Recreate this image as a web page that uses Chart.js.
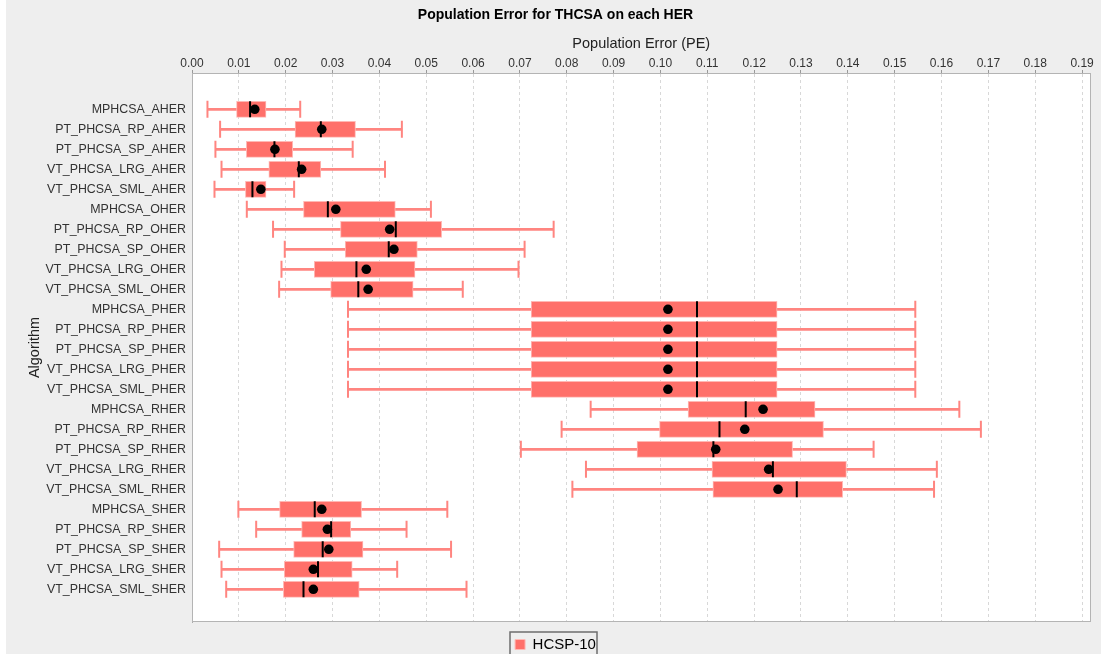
<!DOCTYPE html>
<html><head><meta charset="utf-8">
<script src="https://cdn.jsdelivr.net/npm/chart.js@4"></script>
<style>
html,body{margin:0;padding:0;background:#fff;overflow:hidden;}
#wrap{position:absolute;left:6px;top:0;width:1095px;height:654px;overflow:hidden;background:#eeeeee;}
canvas{display:block;}
</style></head><body>
<div id="wrap"><canvas id="c" width="1095" height="662" style="width:1095px;height:662px"></canvas></div>
<script>
const categories = [
  'MPHCSA_AHER','PT_PHCSA_RP_AHER','PT_PHCSA_SP_AHER','VT_PHCSA_LRG_AHER','VT_PHCSA_SML_AHER',
  'MPHCSA_OHER','PT_PHCSA_RP_OHER','PT_PHCSA_SP_OHER','VT_PHCSA_LRG_OHER','VT_PHCSA_SML_OHER',
  'MPHCSA_PHER','PT_PHCSA_RP_PHER','PT_PHCSA_SP_PHER','VT_PHCSA_LRG_PHER','VT_PHCSA_SML_PHER',
  'MPHCSA_RHER','PT_PHCSA_RP_RHER','PT_PHCSA_SP_RHER','VT_PHCSA_LRG_RHER','VT_PHCSA_SML_RHER',
  'MPHCSA_SHER','PT_PHCSA_RP_SHER','PT_PHCSA_SP_SHER','VT_PHCSA_LRG_SHER','VT_PHCSA_SML_SHER'
];
const seriesName = 'HCSP-10';
const whiskerMin = [0.0033,0.0060,0.0050,0.0063,0.0048, 0.0117,0.0173,0.0198,0.0191,0.0186,
  0.0333,0.0333,0.0333,0.0333,0.0333, 0.0851,0.0789,0.0702,0.0841,0.0812,
  0.0099,0.0137,0.0058,0.0063,0.0073];
const q1 = [0.0095,0.0220,0.0116,0.0164,0.0114, 0.0238,0.0317,0.0327,0.0261,0.0296,
  0.0724,0.0724,0.0724,0.0724,0.0724, 0.1059,0.0998,0.0950,0.1110,0.1112,
  0.0187,0.0234,0.0217,0.0197,0.0195];
const median = [0.0124,0.0275,0.0176,0.0228,0.0129, 0.0290,0.0435,0.0420,0.0351,0.0355,
  0.1078,0.1078,0.1078,0.1078,0.1078, 0.1182,0.1126,0.1113,0.1240,0.1291,
  0.0262,0.0297,0.0279,0.0269,0.0238];
const q3 = [0.0158,0.0349,0.0215,0.0275,0.0158, 0.0434,0.0533,0.0481,0.0476,0.0472,
  0.1249,0.1249,0.1249,0.1249,0.1249, 0.1330,0.1348,0.1282,0.1397,0.1389,
  0.0362,0.0339,0.0365,0.0342,0.0357];
const whiskerMax = [0.0231,0.0448,0.0343,0.0412,0.0218, 0.0510,0.0772,0.0710,0.0697,0.0578,
  0.1544,0.1544,0.1544,0.1544,0.1544, 0.1638,0.1684,0.1455,0.1590,0.1584,
  0.0545,0.0458,0.0553,0.0438,0.0586];
const means = [0.0134,0.0277,0.0177,0.0234,0.0147, 0.0307,0.0422,0.0431,0.0372,0.0376,
  0.1016,0.1016,0.1016,0.1016,0.1016, 0.1219,0.1180,0.1118,0.1231,0.1251,
  0.0277,0.0289,0.0292,0.0259,0.0259];
const xTickValues = [0.00,0.01,0.02,0.03,0.04,0.05,0.06,0.07,0.08,0.09,0.10,0.11,0.12,0.13,0.14,0.15,0.16,0.17,0.18,0.19];

Chart.defaults.font.family = '"Liberation Sans", Arial, sans-serif';
Chart.defaults.animation = false;

const BOX = 'rgb(255,112,106)';
const WHISK = 'rgb(255,133,128)';
const rows = categories.map((_, i) => i);

const framePlugin = {
  id: 'frame',
  beforeDraw(chart) {
    const {ctx, chartArea: a} = chart;
    ctx.save();
    ctx.fillStyle = '#ffffff';
    ctx.fillRect(a.left, a.top, a.right - a.left, a.bottom - a.top);
    ctx.restore();
  },
  afterDraw(chart) {
    const {ctx, chartArea: a} = chart;
    ctx.save();
    ctx.strokeStyle = '#b4b4b4';
    ctx.lineWidth = 1;
    ctx.strokeRect(Math.round(a.left) + 0.5, Math.round(a.top) + 0.5, Math.round(a.right - a.left) - 1, Math.round(a.bottom - a.top) - 1);
    const hb = chart.legend && chart.legend.legendHitBoxes && chart.legend.legendHitBoxes[0];
    if (hb) {
      ctx.strokeStyle = '#6e6e6e';
      ctx.lineWidth = 1.5;
      ctx.strokeRect(Math.round(hb.left) - 5, Math.round(hb.top) - 5, Math.round(hb.width) + 6, 60);
    }
    ctx.restore();
  }
};

new Chart(document.getElementById('c'), {
  type: 'bar',
  data: {
    datasets: [
      { type: 'scatter', label: 'mean', data: rows.map(i => ({x: means[i], y: i})),
        pointRadius: 4.8, pointBackgroundColor: '#000', pointBorderWidth: 0, order: 0 },
      { type: 'scatter', label: 'median', data: rows.map(i => ({x: median[i], y: i})),
        pointStyle: 'line', pointRotation: 90, pointRadius: 8, pointBorderColor: '#000', pointBorderWidth: 2, order: 1 },
      { type: 'bar', label: seriesName, data: rows.map(i => ({x: [q1[i], q3[i]], y: i})),
        backgroundColor: BOX, borderColor: 'rgba(255,185,181,1)', borderWidth: 1, borderSkipped: false,
        barThickness: 16, grouped: false, order: 2 },
      { type: 'scatter', label: 'caps', data: rows.flatMap(i => [{x: whiskerMin[i], y: i}, {x: whiskerMax[i], y: i}]),
        pointStyle: 'line', pointRotation: 90, pointRadius: 8.5, pointBorderColor: WHISK, pointBorderWidth: 2, order: 3 },
      { type: 'bar', label: 'whisker', data: rows.map(i => ({x: [whiskerMin[i], whiskerMax[i]], y: i})),
        backgroundColor: WHISK, borderWidth: 0, barThickness: 2, grouped: false, order: 4 }
    ]
  },
  options: {
    responsive: false,
    indexAxis: 'y',
    layout: { padding: { left: 14, right: 10, top: 0, bottom: 0 } },
    scales: {
      x: {
        type: 'linear', position: 'top', min: 0, max: 0.1918, offset: false,
        afterBuildTicks: s => { s.ticks = xTickValues.map(v => ({value: v})); },
        afterFit: s => { s.height = 44.2; },
        ticks: { callback: v => Number(v).toFixed(2), font: {size: 12}, color: '#333', padding: -1, maxRotation: 0, autoSkip: false },
        grid: { color: '#d8d8d8', tickColor: '#999', tickLength: 3, tickBorderDash: [] },
        border: { display: true, color: '#aaa', dash: [3, 3] },
        title: { display: true, text: 'Population Error (PE)', font: {size: 14.5}, color: '#222', padding: {top: 6, bottom: 0} }
      },
      y: {
        type: 'linear', reverse: true, min: -1.815, max: 25.635, offset: false,
        afterBuildTicks: s => { s.ticks = categories.map((_, i) => ({value: i})); },
        afterFit: s => { s.width = 172; },
        ticks: { callback: v => categories[v] !== undefined ? categories[v] : '', autoSkip: false, font: {size: 12.4}, color: '#333', padding: 6 },
        grid: { display: false, drawTicks: false, offset: false },
        border: { display: true, color: '#aaa' },
        title: { display: true, text: 'Algorithm', font: {size: 14.5}, color: '#222', padding: {top: 6.3, bottom: 0} }
      }
    },
    plugins: {
      title: { display: true, text: 'Population Error for THCSA on each HER', font: {size: 14, weight: 'bold'}, color: '#000', padding: {top: 7, bottom: 5} },
      legend: { position: 'bottom', labels: { filter: item => item.text === seriesName, boxWidth: 10, boxHeight: 10, font: {size: 15}, color: '#000', padding: 15 } },
      tooltip: { enabled: false }
    }
  },
  plugins: [framePlugin]
});
</script>
</body></html>
